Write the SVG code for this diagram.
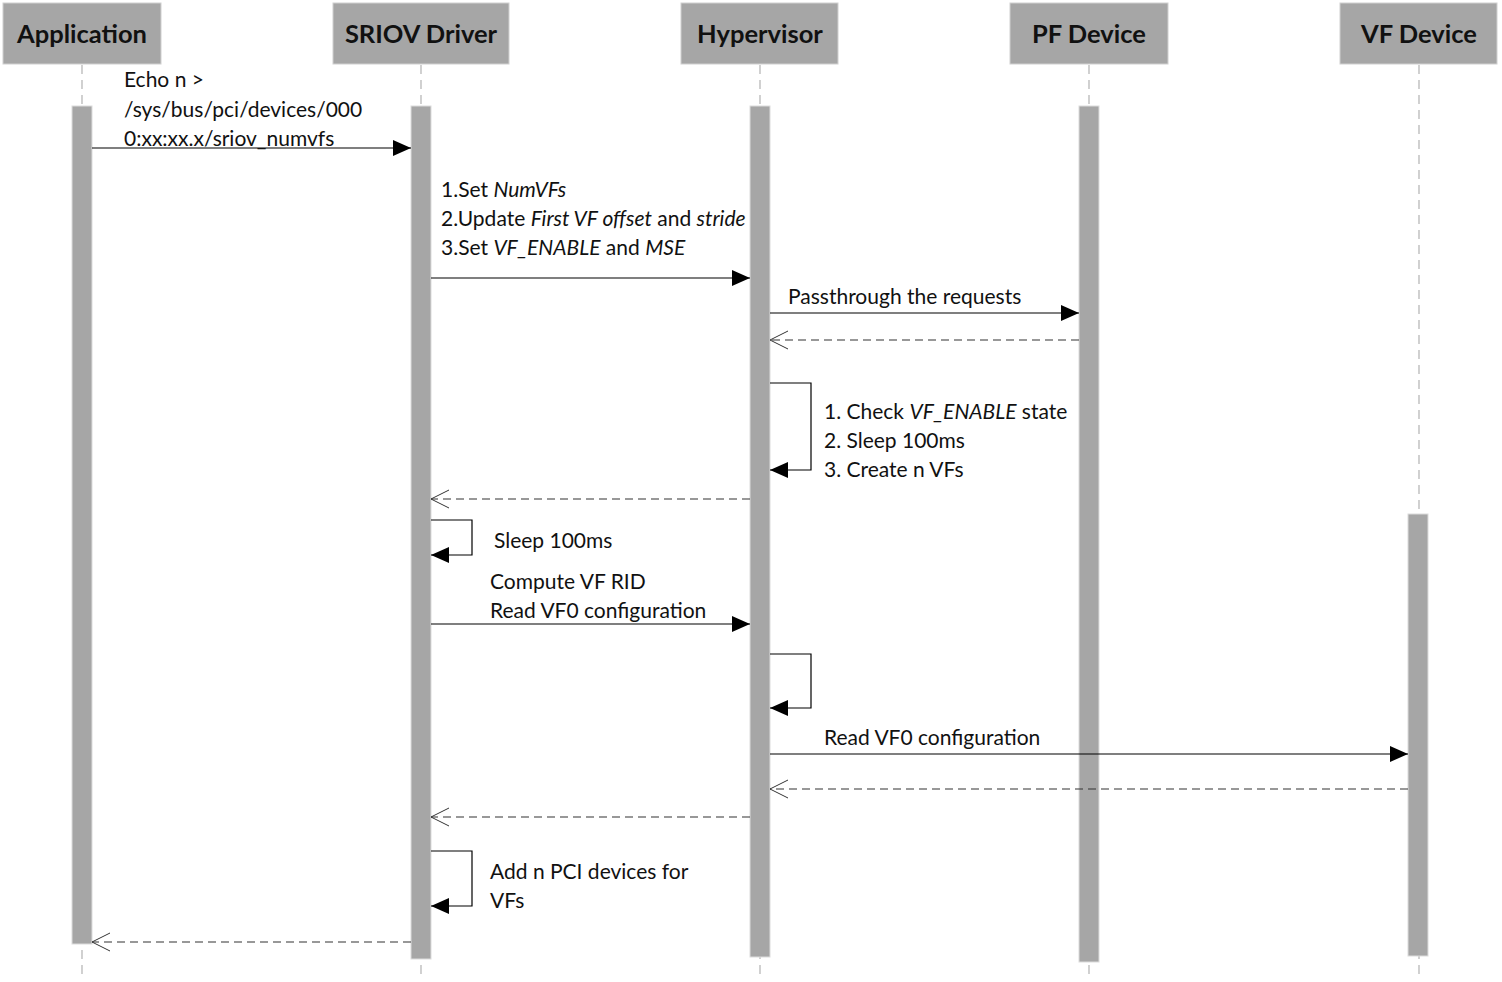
<svg xmlns="http://www.w3.org/2000/svg" width="1502" height="982" viewBox="0 0 1502 982">
<style>
.hdr{fill:#a6a6a6;stroke:#d0d0d0;stroke-width:1}
.hdrt{font-family:Lato,"Open Sans",sans-serif;font-weight:bold;font-size:25.5px;fill:#111;text-anchor:middle}
.life{stroke:#b8b8b8;stroke-width:1.3;stroke-dasharray:9,6;fill:none}
.act{fill:#a6a6a6;stroke:#dcdcdc;stroke-width:1}
.msg{stroke:#000;stroke-width:1.2;fill:none}
.ret{stroke:#333;stroke-width:1.2;stroke-dasharray:8,5;fill:none}
.lbl{font-family:Lato,"Open Sans",sans-serif;font-size:21px;fill:#111}
</style>
<defs>
<marker id="fill" markerWidth="20" markerHeight="18" refX="18" refY="8" orient="auto" markerUnits="userSpaceOnUse">
<path d="M0,0 L18,8 L0,16 Z" fill="#000"/>
</marker>
<marker id="open" markerWidth="22" markerHeight="22" refX="19" refY="10" orient="auto" markerUnits="userSpaceOnUse">
<path d="M1,1 L19,10 L1,19" fill="none" stroke="#333" stroke-width="1"/>
</marker>
</defs>
<rect width="1502" height="982" fill="#fff"/>

<g id="lifelines">
<line class="life" x1="82" y1="65" x2="82" y2="980"/>
<line class="life" x1="421" y1="65" x2="421" y2="980"/>
<line class="life" x1="760" y1="65" x2="760" y2="980"/>
<line class="life" x1="1089" y1="65" x2="1089" y2="980"/>
<line class="life" x1="1419" y1="65" x2="1419" y2="980"/>
</g>

<g id="application">
<rect class="hdr" x="3" y="3" width="158" height="61"/>
<text class="hdrt" x="82" y="43">Application</text>
<rect class="act" x="72" y="106" width="20" height="838"/>
</g>
<g id="sriov-driver">
<rect class="hdr" x="333" y="3" width="176" height="61"/>
<text class="hdrt" x="421" y="43">SRIOV Driver</text>
<rect class="act" x="411" y="106" width="20" height="853"/>
</g>
<g id="hypervisor">
<rect class="hdr" x="681" y="3" width="157" height="61"/>
<text class="hdrt" x="760" y="43">Hypervisor</text>
<rect class="act" x="750" y="106" width="20" height="851"/>
</g>
<g id="pf-device">
<rect class="hdr" x="1010" y="3" width="158" height="61"/>
<text class="hdrt" x="1089" y="43">PF Device</text>
<rect class="act" x="1079" y="106" width="20" height="856"/>
</g>
<g id="vf-device">
<rect class="hdr" x="1340" y="3" width="157" height="61"/>
<text class="hdrt" x="1419" y="43">VF Device</text>
<rect class="act" x="1408" y="514" width="20" height="442"/>
</g>

<g id="connectors">
<line class="msg" x1="92" y1="148" x2="411" y2="148" marker-end="url(#fill)"/>
<line class="msg" x1="431" y1="278" x2="750" y2="278" marker-end="url(#fill)"/>
<line class="msg" x1="770" y1="313" x2="1079" y2="313" marker-end="url(#fill)"/>
<line class="ret" x1="1079" y1="340" x2="770" y2="340" marker-end="url(#open)"/>
<polyline class="msg" points="770,383 811,383 811,470 770,470" marker-end="url(#fill)"/>
<line class="ret" x1="750" y1="499" x2="431" y2="499" marker-end="url(#open)"/>
<polyline class="msg" points="431,520 472,520 472,555 431,555" marker-end="url(#fill)"/>
<line class="msg" x1="431" y1="624" x2="750" y2="624" marker-end="url(#fill)"/>
<polyline class="msg" points="770,654 811,654 811,708 770,708" marker-end="url(#fill)"/>
<line class="msg" x1="770" y1="754" x2="1408" y2="754" marker-end="url(#fill)"/>
<line class="ret" x1="1408" y1="789" x2="770" y2="789" marker-end="url(#open)"/>
<line class="ret" x1="750" y1="817" x2="431" y2="817" marker-end="url(#open)"/>
<polyline class="msg" points="431,851 472,851 472,906 431,906" marker-end="url(#fill)"/>
<line class="ret" x1="411" y1="942" x2="92" y2="942" marker-end="url(#open)"/>
</g>

<g id="labels">
<text class="lbl" x="124" y="87">Echo n &gt;</text>
<text class="lbl" x="124" y="117">/sys/bus/pci/devices/000</text>
<text class="lbl" x="124" y="146">0:xx:xx.x/sriov_numvfs</text>
<text class="lbl" x="441" y="197">1.Set <tspan font-style="italic">NumVFs</tspan></text>
<text class="lbl" x="441" y="226">2.Update <tspan font-style="italic">First VF offset</tspan> and <tspan font-style="italic">stride</tspan></text>
<text class="lbl" x="441" y="255">3.Set <tspan font-style="italic">VF_ENABLE</tspan> and <tspan font-style="italic">MSE</tspan></text>
<text class="lbl" x="788" y="304">Passthrough the requests</text>
<text class="lbl" x="824" y="419">1. Check <tspan font-style="italic">VF_ENABLE</tspan> state</text>
<text class="lbl" x="824" y="448">2. Sleep 100ms</text>
<text class="lbl" x="824" y="477">3. Create n VFs</text>
<text class="lbl" x="494" y="548">Sleep 100ms</text>
<text class="lbl" x="490" y="589">Compute VF RID</text>
<text class="lbl" x="490" y="618">Read VF0 configuration</text>
<text class="lbl" x="824" y="745">Read VF0 configuration</text>
<text class="lbl" x="490" y="879">Add n PCI devices for</text>
<text class="lbl" x="490" y="908">VFs</text>
</g>
</svg>
